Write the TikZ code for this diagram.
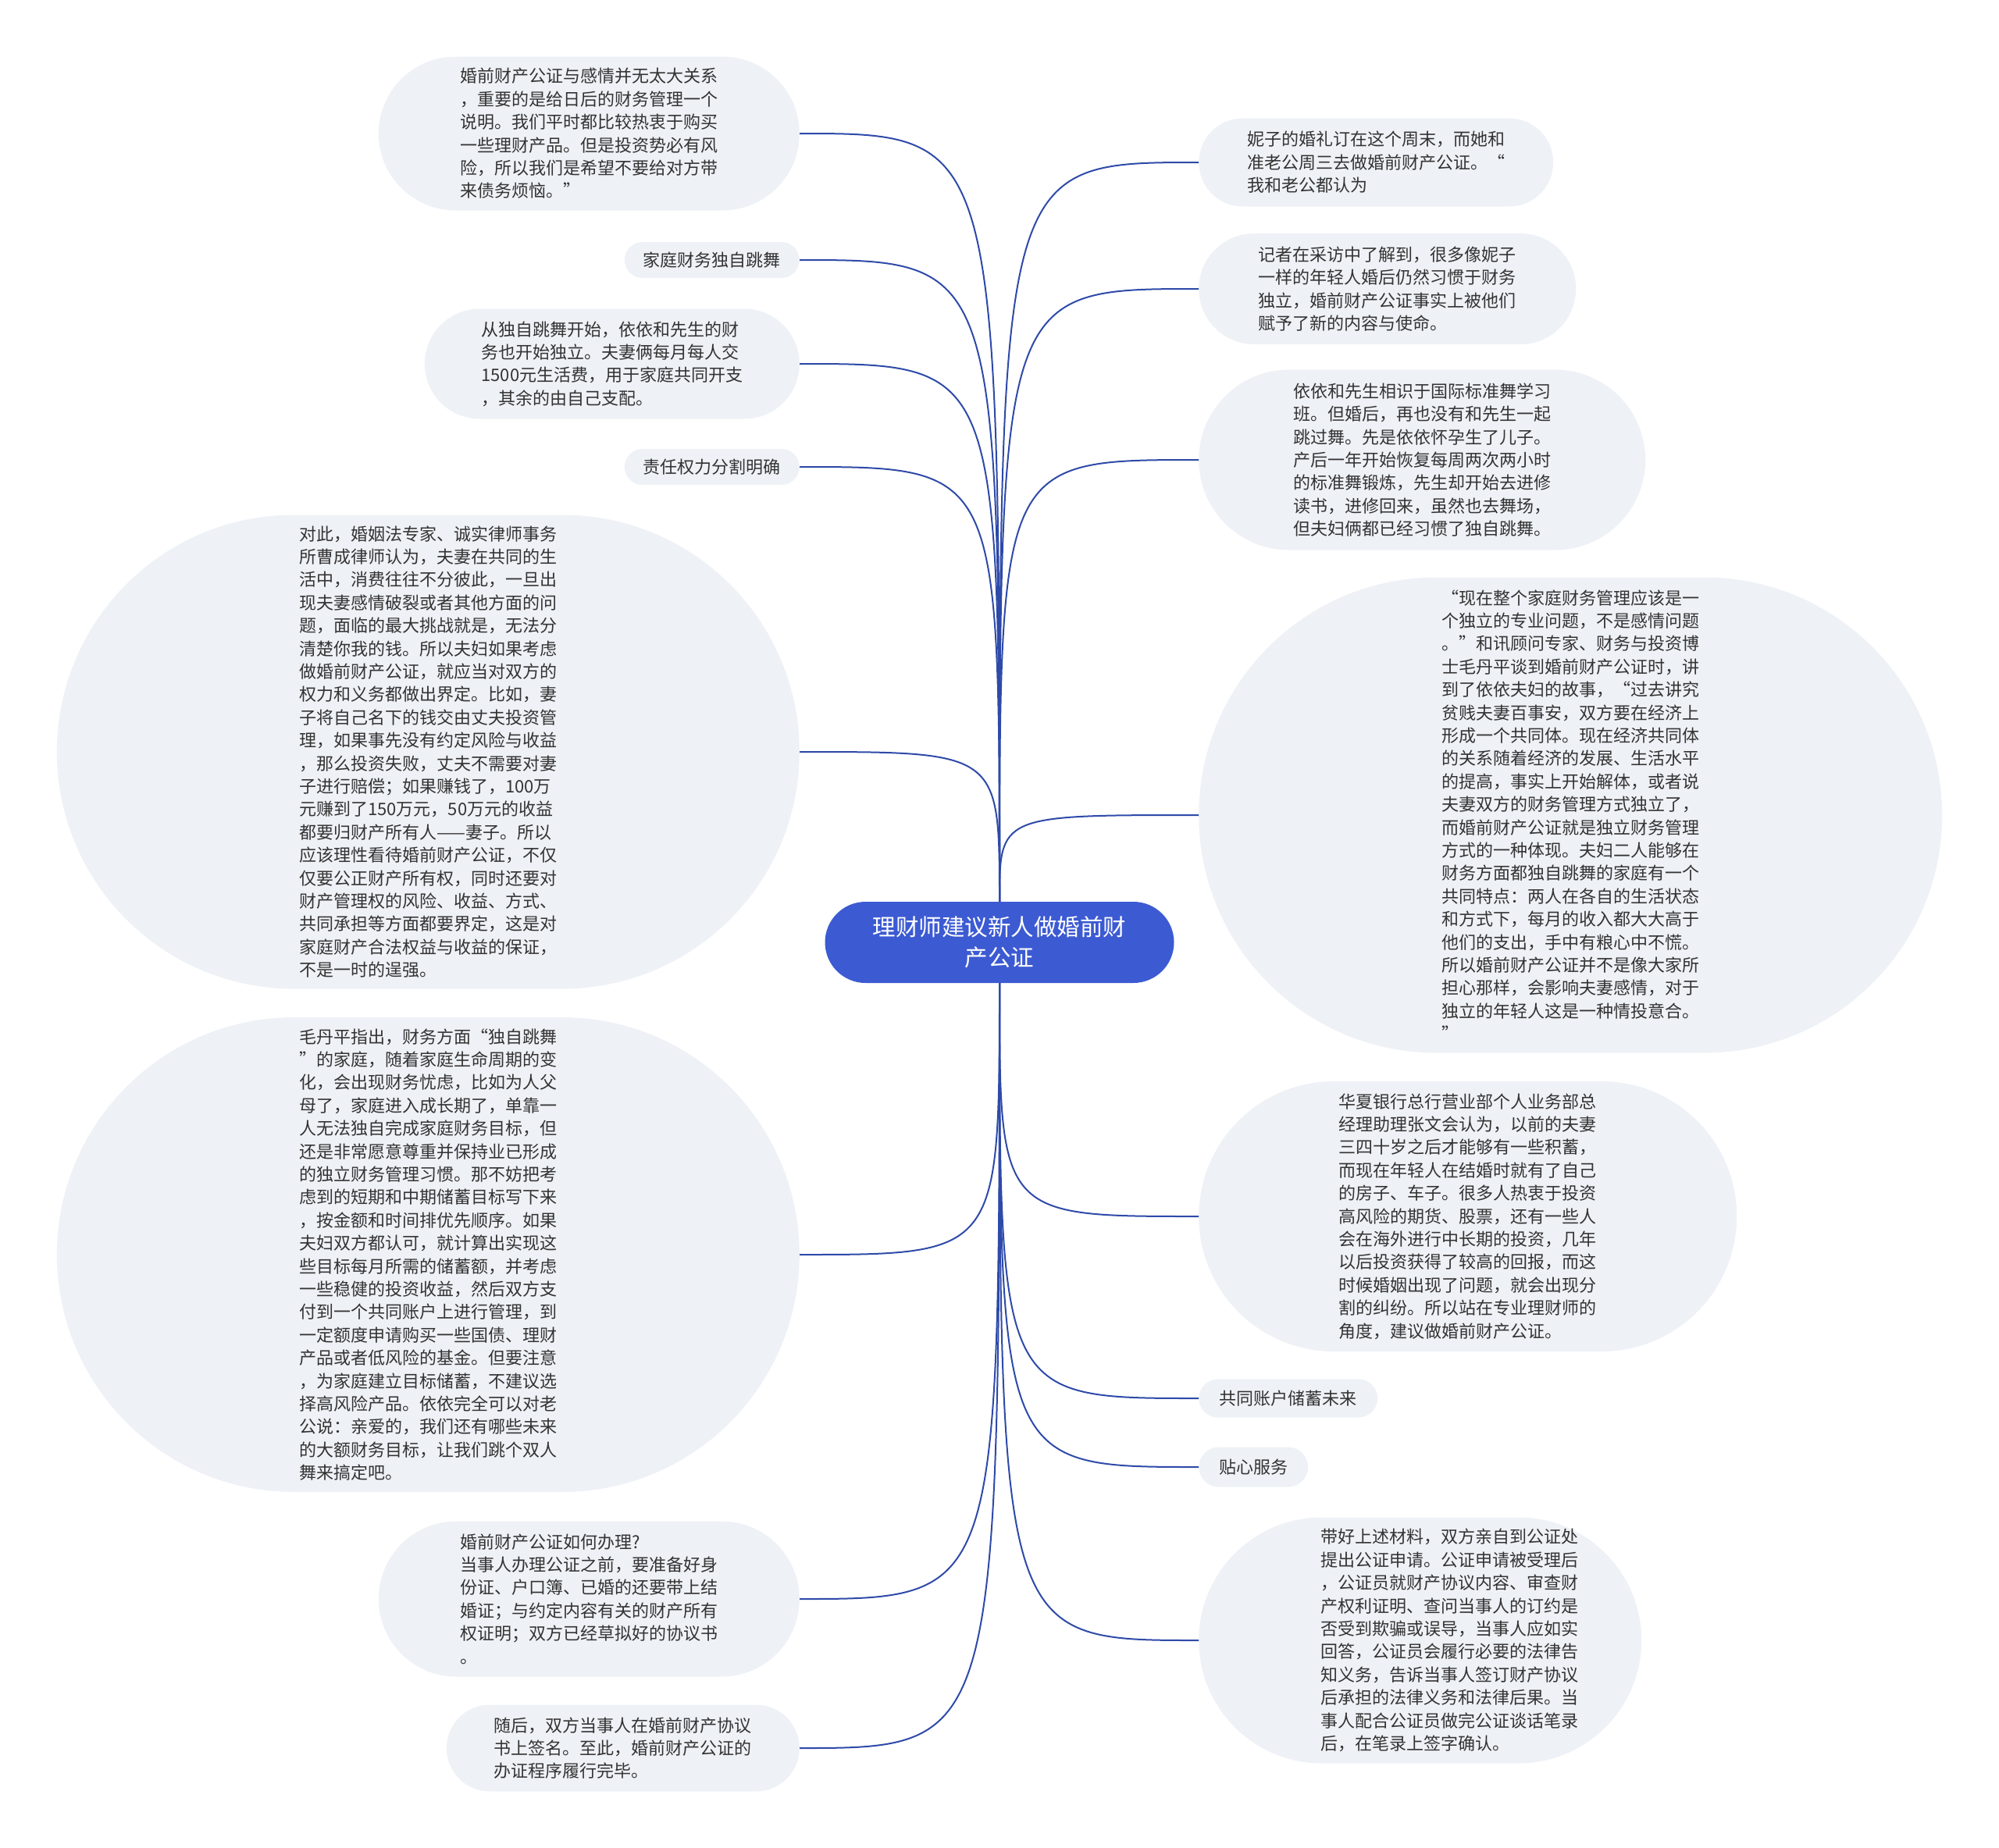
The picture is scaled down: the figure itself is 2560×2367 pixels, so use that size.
\documentclass[tikz,border=0pt]{standalone}
\usepackage{fontspec}
\setmainfont{Noto Sans CJK SC}
\definecolor{rootblue}{RGB}{60,90,210}
\definecolor{linkblue}{RGB}{46,74,168}
\definecolor{leaffill}{RGB}{238,241,246}
\definecolor{leaftext}{RGB}{51,51,51}
\tikzset{
  pill/.style 2 args={rectangle, minimum width=#1, minimum height=#2, rounded corners=#2/2},
  leaf/.style={fill=leaffill, text=leaftext, align=left,
    inner xsep=6pt, inner ysep=8pt, font=\fontsize{22}{29.4}\selectfont},
  root/.style={fill=rootblue, text=white, align=center,
    font=\fontsize{29.5}{39}\selectfont},
  link/.style={draw=linkblue, line width=2pt}
}
\begin{document}
\begin{tikzpicture}[x=1pt,y=1pt,yscale=-1,xscale=1]
\useasboundingbox (0,0) rectangle (2560,2367);
% centre
\node[root, pill={447}{104}] (c) at (1280,1207) {理财师建议新人做婚前财\\产公证};
% left side
\node[leaf, pill={539}{197}, anchor=east] (l1) at (1024,171) {婚前财产公证与感情并无太大关系\\，重要的是给日后的财务管理一个\\说明。我们平时都比较热衷于购买\\一些理财产品。但是投资势必有风\\险，所以我们是希望不要给对方带\\来债务烦恼。”};
\node[leaf, pill={224}{46}, anchor=east] (l2) at (1024,333) {家庭财务独自跳舞};
\node[leaf, pill={480}{141}, anchor=east] (l3) at (1024,466) {从独自跳舞开始，依依和先生的财\\务也开始独立。夫妻俩每月每人交\\1500元生活费，用于家庭共同开支\\，其余的由自己支配。};
\node[leaf, pill={224}{46}, anchor=east] (l4) at (1024,598) {责任权力分割明确};
\node[leaf, pill={951}{607}, anchor=east] (l5) at (1024,963) {对此，婚姻法专家、诚实律师事务\\所曹成律师认为，夫妻在共同的生\\活中，消费往往不分彼此，一旦出\\现夫妻感情破裂或者其他方面的问\\题，面临的最大挑战就是，无法分\\清楚你我的钱。所以夫妇如果考虑\\做婚前财产公证，就应当对双方的\\权力和义务都做出界定。比如，妻\\子将自己名下的钱交由丈夫投资管\\理，如果事先没有约定风险与收益\\，那么投资失败，丈夫不需要对妻\\子进行赔偿；如果赚钱了，100万\\元赚到了150万元，50万元的收益\\都要归财产所有人——妻子。所以\\应该理性看待婚前财产公证，不仅\\仅要公正财产所有权，同时还要对\\财产管理权的风险、收益、方式、\\共同承担等方面都要界定，这是对\\家庭财产合法权益与收益的保证，\\不是一时的逞强。};
\node[leaf, pill={951}{608}, anchor=east] (l6) at (1024,1607) {毛丹平指出，财务方面“独自跳舞\\”的家庭，随着家庭生命周期的变\\化，会出现财务忧虑，比如为人父\\母了，家庭进入成长期了，单靠一\\人无法独自完成家庭财务目标，但\\还是非常愿意尊重并保持业已形成\\的独立财务管理习惯。那不妨把考\\虑到的短期和中期储蓄目标写下来\\，按金额和时间排优先顺序。如果\\夫妇双方都认可，就计算出实现这\\些目标每月所需的储蓄额，并考虑\\一些稳健的投资收益，然后双方支\\付到一个共同账户上进行管理，到\\一定额度申请购买一些国债、理财\\产品或者低风险的基金。但要注意\\，为家庭建立目标储蓄，不建议选\\择高风险产品。依依完全可以对老\\公说：亲爱的，我们还有哪些未来\\的大额财务目标，让我们跳个双人\\舞来搞定吧。};
\node[leaf, pill={539}{199}, anchor=east] (l7) at (1024,2048) {婚前财产公证如何办理?\\当事人办理公证之前，要准备好身\\份证、户口簿、已婚的还要带上结\\婚证；与约定内容有关的财产所有\\权证明；双方已经草拟好的协议书\\。};
\node[leaf, pill={452}{111}, anchor=east] (l8) at (1024,2239) {随后，双方当事人在婚前财产协议\\书上签名。至此，婚前财产公证的\\办证程序履行完毕。};
% right side
\node[leaf, pill={454}{113}, anchor=west] (r1) at (1535,208) {妮子的婚礼订在这个周末，而她和\\准老公周三去做婚前财产公证。“\\我和老公都认为};
\node[leaf, pill={483}{142}, anchor=west] (r2) at (1535,370) {记者在采访中了解到，很多像妮子\\一样的年轻人婚后仍然习惯于财务\\独立，婚前财产公证事实上被他们\\赋予了新的内容与使命。};
\node[leaf, pill={572}{231}, anchor=west] (r3) at (1535,589) {依依和先生相识于国际标准舞学习\\班。但婚后，再也没有和先生一起\\跳过舞。先是依依怀孕生了儿子。\\产后一年开始恢复每周两次两小时\\的标准舞锻炼，先生却开始去进修\\读书，进修回来，虽然也去舞场，\\但夫妇俩都已经习惯了独自跳舞。};
\node[leaf, pill={952}{609}, anchor=west] (r4) at (1535,1044) {“现在整个家庭财务管理应该是一\\个独立的专业问题，不是感情问题\\。”和讯顾问专家、财务与投资博\\士毛丹平谈到婚前财产公证时，讲\\到了依依夫妇的故事，“过去讲究\\贫贱夫妻百事安，双方要在经济上\\形成一个共同体。现在经济共同体\\的关系随着经济的发展、生活水平\\的提高，事实上开始解体，或者说\\夫妻双方的财务管理方式独立了，\\而婚前财产公证就是独立财务管理\\方式的一种体现。夫妇二人能够在\\财务方面都独自跳舞的家庭有一个\\共同特点：两人在各自的生活状态\\和方式下，每月的收入都大大高于\\他们的支出，手中有粮心中不慌。\\所以婚前财产公证并不是像大家所\\担心那样，会影响夫妻感情，对于\\独立的年轻人这是一种情投意合。\\”};
\node[leaf, pill={689}{346}, anchor=west] (r5) at (1535,1558) {华夏银行总行营业部个人业务部总\\经理助理张文会认为，以前的夫妻\\三四十岁之后才能够有一些积蓄，\\而现在年轻人在结婚时就有了自己\\的房子、车子。很多人热衷于投资\\高风险的期货、股票，还有一些人\\会在海外进行中长期的投资，几年\\以后投资获得了较高的回报，而这\\时候婚姻出现了问题，就会出现分\\割的纠纷。所以站在专业理财师的\\角度，建议做婚前财产公证。};
\node[leaf, pill={229}{49}, anchor=west] (r6) at (1535,1791) {共同账户储蓄未来};
\node[leaf, pill={140}{51}, anchor=west] (r7) at (1535,1879) {贴心服务};
\node[leaf, pill={567}{315}, anchor=west] (r8) at (1535,2101) {\hspace*{86pt}\parbox{340pt}{\raggedright 带好上述材料，双方亲自到公证处\\提出公证申请。公证申请被受理后\\，公证员就财产协议内容、审查财\\产权利证明、查问当事人的订约是\\否受到欺骗或误导，当事人应如实\\回答，公证员会履行必要的法律告\\知义务，告诉当事人签订财产协议\\后承担的法律义务和法律后果。当\\事人配合公证员做完公证谈话笔录\\后，在笔录上签字确认。}};
% links
\draw[link] (c.north) .. controls (c.north |- l1.east) .. (l1.east);
\draw[link] (c.north) .. controls (c.north |- l2.east) .. (l2.east);
\draw[link] (c.north) .. controls (c.north |- l3.east) .. (l3.east);
\draw[link] (c.north) .. controls (c.north |- l4.east) .. (l4.east);
\draw[link] (c.north) .. controls (c.north |- l5.east) .. (l5.east);
\draw[link] (c.south) .. controls (c.south |- l6.east) .. (l6.east);
\draw[link] (c.south) .. controls (c.south |- l7.east) .. (l7.east);
\draw[link] (c.south) .. controls (c.south |- l8.east) .. (l8.east);
\draw[link] (c.north) .. controls (c.north |- r1.west) .. (r1.west);
\draw[link] (c.north) .. controls (c.north |- r2.west) .. (r2.west);
\draw[link] (c.north) .. controls (c.north |- r3.west) .. (r3.west);
\draw[link] (c.north) .. controls (c.north |- r4.west) .. (r4.west);
\draw[link] (c.south) .. controls (c.south |- r5.west) .. (r5.west);
\draw[link] (c.south) .. controls (c.south |- r6.west) .. (r6.west);
\draw[link] (c.south) .. controls (c.south |- r7.west) .. (r7.west);
\draw[link] (c.south) .. controls (c.south |- r8.west) .. (r8.west);
\end{tikzpicture}
\end{document}
